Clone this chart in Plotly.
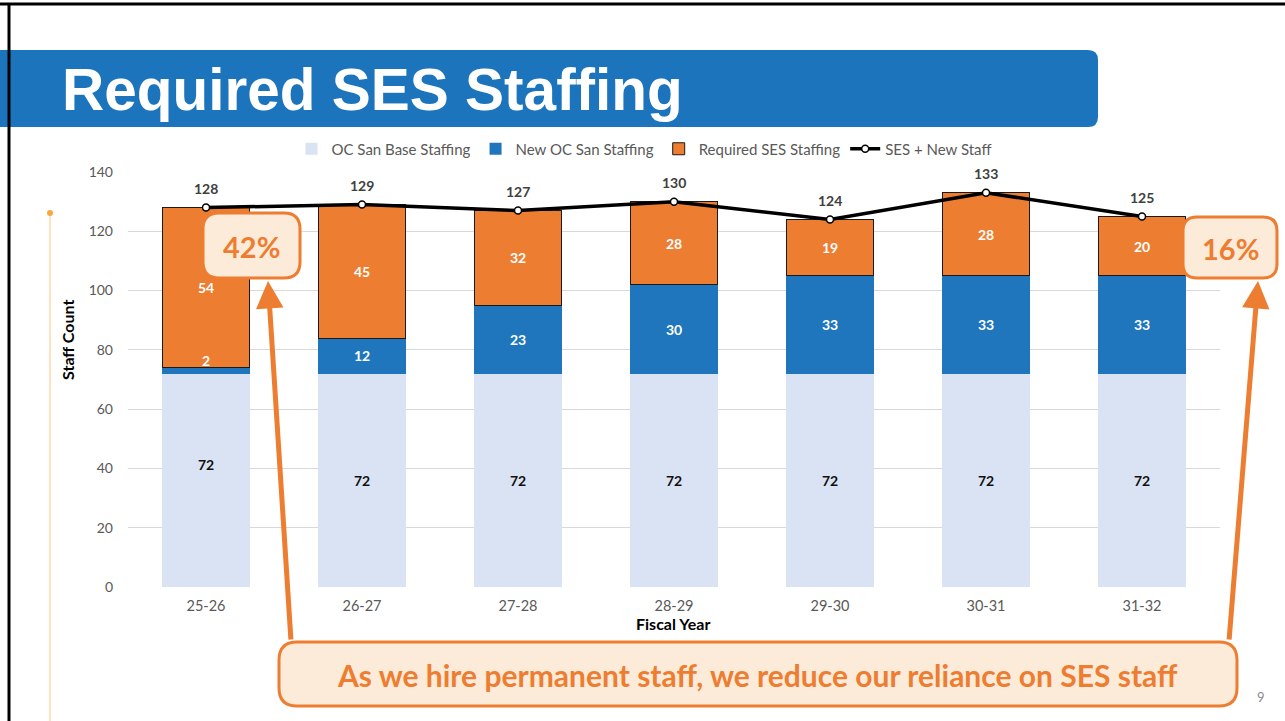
import plotly.graph_objects as go

# ---------------- data ----------------
years = ["25-26", "26-27", "27-28", "28-29", "29-30", "30-31", "31-32"]
base_staff = [72, 72, 72, 72, 72, 72, 72]
new_staff = [2, 12, 23, 30, 33, 33, 33]
ses_staff = [54, 45, 32, 28, 19, 28, 20]
ses_plus_new = [128, 129, 127, 130, 124, 133, 125]
y_ticks = [0, 20, 40, 60, 80, 100, 120, 140]

# ---------------- styling ----------------
W, H = 1285, 721
L, R, T, B = 128, 1220, 172, 587  # plot area in pixels
FONT = "Lato"
C_BASE = "#DAE3F3"
C_NEW = "#1F76BC"
C_SES = "#ED7D31"
C_PEACH = "#FDEBD9"
C_GRAY = "#595959"


def px(x):
    return (x - L) / (R - L)


def py(y):
    return 1 - (y - T) / (B - T)


def rrect(x0, y0, x1, y1, r):
    X0, X1 = px(x0), px(x1)
    Y0, Y1 = py(y0), py(y1)
    rx = r / (R - L)
    ry = r / (B - T)
    return (f"M {X0+rx},{Y0} L {X1-rx},{Y0} Q {X1},{Y0} {X1},{Y0-ry} "
            f"L {X1},{Y1+ry} Q {X1},{Y1} {X1-rx},{Y1} L {X0+rx},{Y1} "
            f"Q {X0},{Y1} {X0},{Y1+ry} L {X0},{Y0-ry} Q {X0},{Y0} {X0+rx},{Y0} Z")


def ptext(x, y, text, size, color, family=FONT, xanchor="center", **kw):
    return dict(xref="paper", yref="paper", x=px(x), y=py(y), xanchor=xanchor, yanchor="middle",
                text=text, showarrow=False, font=dict(family=family, size=size, color=color), **kw)


fig = go.Figure()
fig.add_trace(go.Bar(x=years, y=base_staff, name="OC San Base Staffing",
                     marker=dict(color=C_BASE, line=dict(width=0))))
fig.add_trace(go.Bar(x=years, y=new_staff, name="New OC San Staffing",
                     marker=dict(color=C_NEW, line=dict(width=0))))
fig.add_trace(go.Bar(x=years, y=ses_staff, name="Required SES Staffing",
                     marker=dict(color=C_SES, line=dict(color="#1a1a1a", width=1))))
fig.add_trace(go.Scatter(x=years, y=ses_plus_new, name="SES + New Staff", mode="lines+markers",
                         line=dict(color="black", width=3.5),
                         marker=dict(color="white", size=7, line=dict(color="black", width=1.5))))

ann = []
base_shift = [16, 0, 0, 0, 0, 0, 0]
new_shift = [10, 0, 0, 0, 0, 0, 0]
for i, yr in enumerate(years):
    b, n, s = base_staff[i], new_staff[i], ses_staff[i]
    ann.append(dict(x=yr, y=b / 2, text=f"<b>{b}</b>", showarrow=False, yshift=base_shift[i],
                    font=dict(family=FONT, size=14, color="#111111")))
    ann.append(dict(x=yr, y=b + n / 2, text=f"<b>{n}</b>", showarrow=False, yshift=new_shift[i],
                    font=dict(family=FONT, size=14, color="white")))
    ann.append(dict(x=yr, y=b + n + s / 2, text=f"<b>{s}</b>", showarrow=False,
                    font=dict(family=FONT, size=14, color="white")))
    ann.append(dict(x=yr, y=ses_plus_new[i], text=f"<b>{ses_plus_new[i]}</b>", showarrow=False,
                    yshift=19, font=dict(family=FONT, size=14, color="#404040")))

# title
ann.append(ptext(60, 89, "<b>Required SES Staffing</b>", 58.5, "white",
                 family="Liberation Sans, Arial", xanchor="left"))
# callouts
ann.append(ptext(251, 246, "<b>42%</b>", 29, C_SES))
ann.append(ptext(1230, 248, "<b>16%</b>", 29, C_SES))
ann.append(ptext(757, 675, "<b>As we hire permanent staff, we reduce our reliance on SES staff</b>", 30, C_SES))
# arrows
ann.append(dict(xref="paper", yref="paper", x=px(268), y=py(281), ax=23, ay=360, text="",
                showarrow=True, arrowhead=2, arrowsize=1.1, arrowwidth=5, arrowcolor=C_SES))
ann.append(dict(xref="paper", yref="paper", x=px(1258), y=py(281), ax=-29, ay=360, text="",
                showarrow=True, arrowhead=2, arrowsize=1.1, arrowwidth=5, arrowcolor=C_SES))
# page number
ann.append(ptext(1261, 697, "9", 13, "#8c8c8c"))
# axis titles
ann.append(ptext(67, 340, "<b>Staff Count</b>", 16, "black", textangle=-90))
ann.append(ptext(673, 623, "<b>Fiscal Year</b>", 16, "black"))

shapes = [
    # page border
    dict(type="line", xref="paper", yref="paper", x0=px(0), x1=px(W), y0=py(4), y1=py(4),
         line=dict(color="black", width=3), layer="above"),
    dict(type="line", xref="paper", yref="paper", x0=px(9), x1=px(9), y0=py(4), y1=py(H),
         line=dict(color="black", width=3), layer="above"),
    # title band
    dict(type="path", xref="paper", yref="paper", path=rrect(-20, 50, 1098, 127, 10),
         fillcolor="#1C75BC", line=dict(width=0), layer="below"),
    # side decoration
    dict(type="line", xref="paper", yref="paper", x0=px(50), x1=px(50), y0=py(213), y1=py(H),
         line=dict(color="#FBD9A8", width=1.5), layer="below"),
    dict(type="circle", xref="paper", yref="paper", x0=px(47), x1=px(53), y0=py(210), y1=py(216),
         fillcolor="#F9A83B", line=dict(width=0), layer="below"),
    # callout boxes
    dict(type="path", xref="paper", yref="paper", path=rrect(203, 213, 300, 278, 16),
         fillcolor=C_PEACH, line=dict(color=C_SES, width=3), layer="above"),
    dict(type="path", xref="paper", yref="paper", path=rrect(1183, 217, 1277, 278, 14),
         fillcolor=C_PEACH, line=dict(color=C_SES, width=3), layer="above"),
    dict(type="path", xref="paper", yref="paper", path=rrect(279, 642, 1237, 706, 18),
         fillcolor=C_PEACH, line=dict(color=C_SES, width=3), layer="above"),
]

fig.update_layout(
    width=W, height=H,
    margin=dict(l=L, r=W - R, t=T, b=H - B, pad=0),
    paper_bgcolor="white", plot_bgcolor="white",
    barmode="stack", bargap=0.44,
    font=dict(family=FONT, color=C_GRAY),
    showlegend=True,
    legend=dict(orientation="h", x=px(644), xanchor="center", y=py(149), yanchor="middle",
                font=dict(family=FONT, size=15, color=C_GRAY), traceorder="normal",
                itemwidth=30, bgcolor="rgba(0,0,0,0)"),
    xaxis=dict(showgrid=False, showline=False, zeroline=False, ticks="", ticklabelstandoff=8,
               tickfont=dict(family=FONT, size=14.5, color=C_GRAY)),
    yaxis=dict(range=[0, 140], tickvals=y_ticks, showgrid=True, gridcolor="#D9D9D9", gridwidth=1,
               zeroline=False, showline=False, ticks="", ticklabelstandoff=14,
               tickfont=dict(family=FONT, size=14, color=C_GRAY)),
    annotations=ann, shapes=shapes,
)

fig.write_html("out.html")
